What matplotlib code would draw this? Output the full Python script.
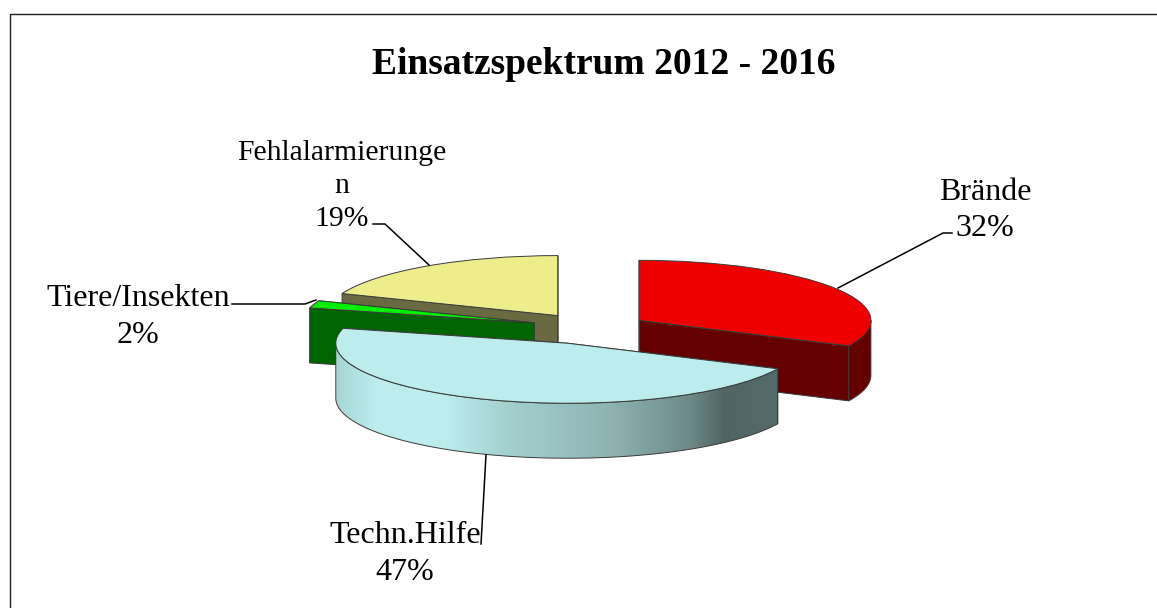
import matplotlib
matplotlib.use('Agg')
import matplotlib.pyplot as plt
from matplotlib.colors import LinearSegmentedColormap
from matplotlib.patches import Polygon
import numpy as np

W, H = 1157, 608
categories = ['Brände', 'Techn.Hilfe', 'Tiere/Insekten', 'Fehlalarmierunge\nn']
shares = [32, 47, 2, 19]

top_colors = ['#ee0000', '#bcecec', '#00ee00', '#eded8c']
side_colors = ['#640000', '#506464', '#006400', '#6a6a42']
explode = [0.27, 0.27, 0.225, 0.27]
draw_order = [3, 2, 0, 1]

# pixel scale of the flattened pie
RX, RY = 232.0, 60.0
CX, CY = 586.0, 329.0
DEPTH = 55.0 / RY
EDGE = '#3a3a3a'
# small slice shifts in pixels (x right, y up), pie() alone lands a bit off
nudge = [(0, 0), (3, 1), (-2, 2), (7, 0)]

plt.rcParams['font.family'] = ['Liberation Serif']

fig = plt.figure(figsize=(W / 100, H / 100), dpi=100)
ax = fig.add_axes([0, 0, 1, 1])

wedges, _ = ax.pie(shares, explode=explode, startangle=90, counterclock=False,
                   colors=top_colors, radius=1,
                   wedgeprops={'linewidth': 0.7, 'edgecolor': EDGE})
for w, (dx, dy) in zip(wedges, nudge):
    w.set_center((w.center[0] + dx / RX, w.center[1] + dy / RY))
ax.set_aspect('auto')
ax.axis('off')


def rim(w, a, b, n=120):
    t = np.radians(np.linspace(a, b, n))
    return w.center[0] + w.r * np.cos(t), w.center[1] + w.r * np.sin(t)


def cut_face(w, ang, color, z):
    x, y = rim(w, ang, ang, 1)
    cx, cy = w.center
    pts = [(cx, cy), (x[0], y[0]), (x[0], y[0] - DEPTH), (cx, cy - DEPTH)]
    ax.add_patch(Polygon(pts, closed=True, fc=color, ec=EDGE, lw=0.7, zorder=z))


def front_arc(w):
    # part of the rim on the viewer's side, angle between 180 and 360
    a, b = w.theta1 % 360, w.theta2 % 360
    if b <= a:
        b += 360
    lo, hi = max(a, 180), min(b, 360)
    if hi <= lo:
        return None
    return lo, hi


teal_cmap = LinearSegmentedColormap.from_list('teal', [
    (0.00, '#a8d6d6'), (0.09, '#bcecec'), (0.25, '#bcecec'), (0.37, '#a6d2d2'),
    (0.62, '#8fb3b3'), (0.80, '#6f8a8a'), (0.88, '#506464'), (1.00, '#566c6c')])

for rank, i in enumerate(draw_order):
    w = wedges[i]
    z = 2 + rank * 2
    w.set_zorder(z + 1)
    cut_face(w, w.theta1, side_colors[i], z)
    cut_face(w, w.theta2, side_colors[i], z)
    span = front_arc(w)
    if span is None:
        continue
    x, y = rim(w, span[0], span[1])
    xs = np.r_[x, x[::-1]]
    ys = np.r_[y, y[::-1] - DEPTH]
    if i == 1:
        # side of the big slice has a light-to-dark sheen
        poly = Polygon(np.c_[xs, ys], closed=True, fc='none', ec=EDGE, lw=0.7, zorder=z + 0.6)
        ax.add_patch(poly)
        grad = np.linspace(0, 1, 256).reshape(1, -1)
        im = ax.imshow(grad, cmap=teal_cmap, aspect='auto', zorder=z + 0.5,
                       extent=[xs.min(), xs.max(), ys.min(), ys.max()])
        im.set_clip_path(poly)
    else:
        ax.add_patch(Polygon(np.c_[xs, ys], closed=True, fc=side_colors[i], ec=EDGE, lw=0.7, zorder=z + 0.5))

ax.set_xlim((0 - CX) / RX, (W - CX) / RX)
ax.set_ylim((CY - H) / RY, CY / RY)


def px(x, y):
    return x / W, 1 - y / H


def leader(xs, ys):
    fx = [x / W for x in xs]
    fy = [1 - y / H for y in ys]
    fig.add_artist(plt.Line2D(fx, fy, color='black', lw=1.1, zorder=30))


# chart frame, only top and left are inside the crop
fig.add_artist(plt.Line2D([9.5 / W, 9.5 / W, 1], [0, 1 - 13.5 / H, 1 - 13.5 / H], color='#222222', lw=1.0))

fig.text(*px(604, 64), 'Einsatzspektrum 2012 - 2016', fontsize=27, fontweight='bold', ha='center', va='center')

label_pos = [(985, 210.5), (405, 554), (138, 317), (342, 186)]
sizes = [23, 23, 23, 21.3]
spacing = [1.33, 1.33, 1.33, 1.34]
for name, share, (lx, ly), fs, ls in zip(categories, shares, label_pos, sizes, spacing):
    fig.text(*px(lx, ly), f'{name}\n{share}%', fontsize=fs, ha='center', va='center', linespacing=ls, zorder=31)

leader([952, 943, 838], [233, 233, 288])
leader([481, 486], [544, 455])
leader([232, 305, 316], [304, 304, 300])
leader([373, 385, 429], [224, 224, 265])

fig.savefig('out.png', dpi=100)
